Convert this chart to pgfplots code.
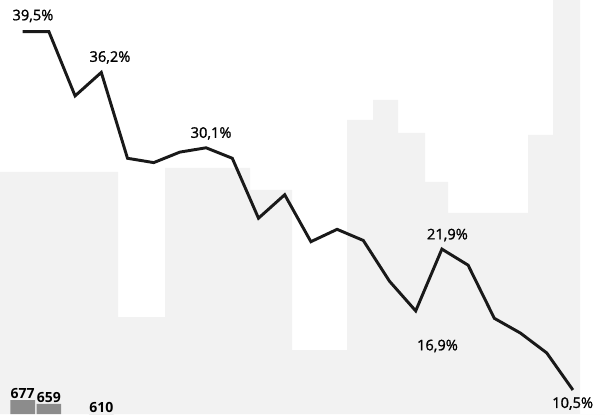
\documentclass[border=0pt]{standalone}
\usepackage{pgfplots}
\pgfplotsset{compat=1.18}
\usepackage{fontspec}
\setmainfont{Open Sans}
\begin{document}
\begin{tikzpicture}
\pgfplotsset{base/.style={scale only axis, width=453.75pt, height=310.5pt, at={(0,0)}, anchor=south west, hide axis}}
% faint background skyline (pixel units)
\begin{axis}[base, xmin=0, xmax=605, ymin=0, ymax=414]
\addplot[const plot, fill=black!5, draw=none] coordinates {
(0,242) (118,97) (165,246) (250,224) (292,64) (347,294) (373,314) (398,281) (425,232) (448,201) (528,279) (553,414) (580,0) (605,0)} \closedcycle;
\end{axis}
% bars (cut off at bottom)
\begin{axis}[base, xmin=-0.866, xmax=22.225, ymin=610, ymax=2591, ybar, bar width=18.5pt, clip=false,
  nodes near coords, point meta=explicit symbolic,
  every node near coord/.append style={font=\bfseries\fontsize{10.5}{12}\selectfont, black, inner sep=1pt}]
\addplot[fill=black!45, draw=none] coordinates {(0,677) [677] (1,659) [659] (3,610) [610]};
\end{axis}
% line
\begin{axis}[base, xmin=-0.866, xmax=22.225, ymin=8.555, ymax=42.06, clip=false]
\addplot[black!90, line width=2.2pt, line join=miter] coordinates {
(0,39.5) (1,39.5) (2,34.3) (3,36.2) (4,29.25) (5,28.9) (6,29.75) (7,30.1) (8,29.25) (9,24.4) (10,26.3) (11,22.5) (12,23.5) (13,22.6) (14,19.3) (15,16.9) (16,21.9) (17,20.6) (18,16.3) (19,15.1) (20,13.5) (21,10.5)};
\addplot[draw=none, mark=none, nodes near coords, point meta=explicit symbolic,
  every node near coord/.append style={anchor=center, font=\fontsize{11}{13}\selectfont\addfontfeatures{FakeBold=1.2}, black, inner sep=0pt}] coordinates {
(0.39,40.77) [39,5\%]
(3.33,37.41) [36,2\%]
(7.19,31.26) [30,1\%]
(16.21,23.04) [21,9\%]
(15.83,14.06) [16,9\%]
(20.99,9.40) [10,5\%]};
\end{axis}
\pgfresetboundingbox
\path (0,0) rectangle (453.75pt,310.5pt);
\end{tikzpicture}
\end{document}
